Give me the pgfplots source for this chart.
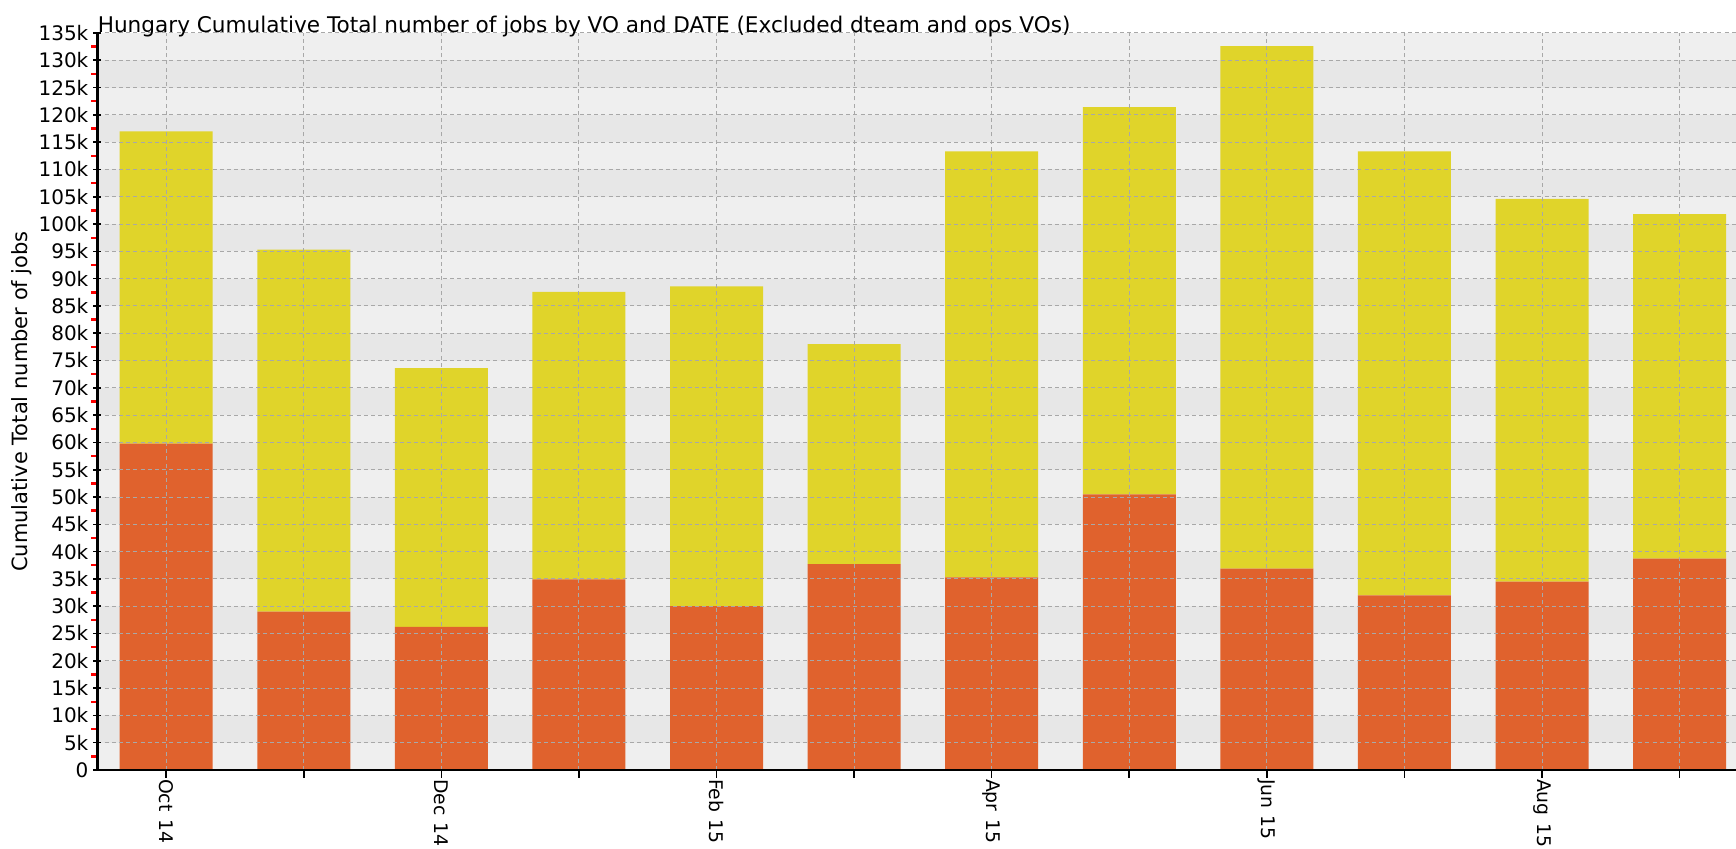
\documentclass[border=0pt]{standalone}
\usepackage{fontspec}
\setmainfont{DejaVu Sans}
\usepackage{pgfplots}
\pgfplotsset{compat=1.18}
\definecolor{barorange}{HTML}{E0622D}
\definecolor{baryellow}{HTML}{E0D42A}
\definecolor{bglight}{HTML}{EFEFEF}
\definecolor{bgdark}{HTML}{E7E7E7}
\definecolor{gridgray}{HTML}{A8A8A8}
\begin{document}
\begin{tikzpicture}
% background bands (every 5k, alternating)
\fill[bglight] (0pt,0pt) rectangle (819.3pt,368.5pt);
\foreach \i in {0,...,12}{
  \fill[bgdark] (0pt,{(\i*2+1)/27*368.5pt}) rectangle (819.3pt,{(\i*2+2)/27*368.5pt});
}
\begin{axis}[
  at={(0pt,0pt)}, anchor=south west,
  axis on top,
  scale only axis, width=819.3pt, height=368.5pt,
  xmin=-0.5, xmax=11.41, ymin=0, ymax=135,
  ybar stacked, bar width=0.676,
  axis x line*=bottom, axis y line*=left,
  axis line style={-, black, line width=1.2pt},
  xtick={0,...,11},
  xticklabels={Oct\hspace{0.8pt} 14,,Dec\hspace{0.8pt} 14,,Feb\hspace{0.8pt} 15,,Apr\hspace{0.8pt} 15,,Jun\hspace{0.8pt} 15,,Aug\hspace{0.8pt} 15,},
  xticklabel style={rotate=-90, anchor=west, font=\fontsize{9.4}{11}\selectfont},
  xticklabel shift=-3pt,
  ytick={0,5,...,135},
  yticklabels={0,5k,10k,15k,20k,25k,30k,35k,40k,45k,50k,55k,60k,65k,70k,75k,80k,85k,90k,95k,100k,105k,110k,115k,120k,125k,130k,135k},
  yticklabel style={font=\fontsize{10}{12}\selectfont, xshift=1pt},
  /pgf/number format/assume math mode=true,
  minor ytick={2.5,7.5,...,132.5},
  ytick align=center,
  xtick align=outside,
  major tick length=4pt,
  minor tick length=3pt,
  major tick style={black, line width=0.8pt},
  minor y tick style={red, line width=1.2pt, xshift=-1.6pt},
  ymajorgrids, xmajorgrids,
  major grid style={gridgray, dash pattern=on 2pt off 1.6pt, line width=0.5pt},
  every axis y label/.style={at={(axis description cs:-0.046,0.5)}, rotate=90, anchor=center, font=\fontsize{10.5}{12}\selectfont},
  ylabel={Cumulative Total number of jobs},
  title={Hungary Cumulative Total number of jobs by VO and DATE (Excluded dteam and ops VOs)},
  title style={at={(axis description cs:0,1)}, anchor=base west, inner sep=0pt, yshift=-5.6pt, font=\fontsize{10.8}{12}\selectfont},
]
\addplot[fill=barorange, draw=none] coordinates {
  (0,59.8) (1,29.0) (2,26.2) (3,34.9) (4,30.0) (5,37.7)
  (6,35.3) (7,50.5) (8,36.9) (9,32.0) (10,34.5) (11,38.7)};
\addplot[fill=baryellow, draw=none] coordinates {
  (0,57.2) (1,66.3) (2,47.4) (3,52.7) (4,58.6) (5,40.3)
  (6,78.0) (7,70.9) (8,95.7) (9,81.3) (10,70.1) (11,63.1)};
\end{axis}
\pgfresetboundingbox
\path[use as bounding box] (-48.7pt,-39.5pt) rectangle (819.3pt,385pt);
\end{tikzpicture}
\end{document}
